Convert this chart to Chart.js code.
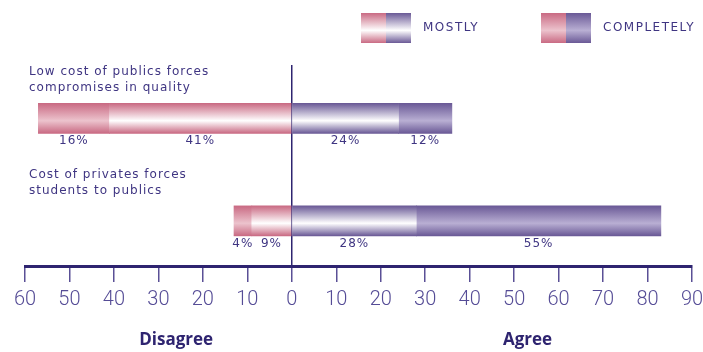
<!DOCTYPE html>
<html>
<head>
<meta charset="utf-8">
<title>Costs and quality</title>
<script src="https://cdn.jsdelivr.net/npm/chart.js@4/dist/chart.umd.min.js"></script>
<style>
  html, body { margin: 0; padding: 0; background: #fff; }
  #wrap { width: 703px; height: 352px; }
</style>
</head>
<body>
<div id="wrap"><canvas id="chart" width="703" height="352"></canvas></div>
<script>
'use strict';

// survey statements, two lines each
var statements = [
    ['Low cost of publics forces', 'compromises in quality'],
    ['Cost of privates forces', 'students to publics']
];

// percentages per answer
var disagreeCompletely = [16, 4];
var disagreeMostly     = [41, 9];
var agreeMostly        = [24, 28];
var agreeCompletely    = [12, 55];

var axisMin = -60, axisMax = 90, axisStep = 10;
var sideLabels = [
    { text: 'Disagree', at: -26 },
    { text: 'Agree',    at: 53 }
];

var NAVY = '#2e2470';
var INK = '#3f3582';
var BAR = 30;

var palette = {
    pinkMostly:      ['#c96a83', '#ffffff'],
    pinkCompletely:  ['#c96a83', '#ecc3cd'],
    purpleMostly:    ['#6a5996', '#ffffff'],
    purpleCompletely:['#6a5996', '#b9afd3']
};

function vgrad(ctx, y0, h, pair) {
    var g = ctx.createLinearGradient(0, y0, 0, y0 + h);
    g.addColorStop(0, pair[0]);
    g.addColorStop(0.58, pair[1]);
    g.addColorStop(1, pair[0]);
    return g;
}

// gradient for each bar, taken from where the y scale puts the row
function barFill(pair) {
    return function (c) {
        var chart = c.chart;
        var ys = chart.scales.y;
        if (!ys || c.type !== 'data') return pair[0];
        var yc = ys.getPixelForValue(c.dataIndex);
        if (!isFinite(yc)) return pair[0];
        return vgrad(chart.ctx, yc - BAR / 2, BAR, pair);
    };
}

function rows(values, sign) {
    return values.map(function (v, i) { return { x: sign * v, y: i }; });
}

// texts, legend and side captions
var decorations = {
    id: 'decorations',
    afterDatasetsDraw: function (chart) {
        var ctx = chart.ctx;
        var xs = chart.scales.x, ys = chart.scales.y;
        ctx.save();

        // percentage under each segment
        ctx.font = '12px "DejaVu Sans"';
        ctx.letterSpacing = '1px';
        ctx.fillStyle = INK;
        ctx.textAlign = 'center';
        ctx.textBaseline = 'middle';
        chart.data.datasets.forEach(function (ds, di) {
            var meta = chart.getDatasetMeta(di);
            ds.data.forEach(function (pt, i) {
                var el = meta.data[i];
                var cx = (el.x + el.base) / 2;
                var yc = ys.getPixelForValue(i);
                ctx.fillText(Math.abs(pt.x) + '%', cx, yc + BAR / 2 + 8);
            });
        });

        // statement over each bar
        ctx.textAlign = 'left';
        statements.forEach(function (lines, i) {
            var yc = ys.getPixelForValue(i);
            lines.forEach(function (t, k) {
                ctx.fillText(t, 29, yc - 46 + k * 16);
            });
        });

        // legend
        var items = [
            { text: 'MOSTLY', x: 361, pink: palette.pinkMostly, purple: palette.purpleMostly },
            { text: 'COMPLETELY', x: 541, pink: palette.pinkCompletely, purple: palette.purpleCompletely }
        ];
        items.forEach(function (it) {
            ctx.fillStyle = vgrad(ctx, 13, 30, it.pink);
            ctx.fillRect(it.x, 13, 25, 30);
            ctx.fillStyle = vgrad(ctx, 13, 30, it.purple);
            ctx.fillRect(it.x + 25, 13, 25, 30);
            ctx.fillStyle = INK;
            ctx.font = '12px "DejaVu Sans"';
            ctx.letterSpacing = '1.5px';
            ctx.fillText(it.text, it.x + 62, 28);
        });

        // side captions under the axis
        ctx.letterSpacing = '0px';
        ctx.font = 'bold 17px "Open Sans", "DejaVu Sans"';
        ctx.fillStyle = NAVY;
        ctx.textAlign = 'center';
        sideLabels.forEach(function (s) {
            ctx.fillText(s.text, xs.getPixelForValue(s.at), 340);
        });
        ctx.restore();
    }
};

var datasets = [
    { label: 'Disagree mostly',     data: rows(disagreeMostly, -1),     backgroundColor: barFill(palette.pinkMostly) },
    { label: 'Disagree completely', data: rows(disagreeCompletely, -1), backgroundColor: barFill(palette.pinkCompletely) },
    { label: 'Agree mostly',        data: rows(agreeMostly, 1),         backgroundColor: barFill(palette.purpleMostly) },
    { label: 'Agree completely',    data: rows(agreeCompletely, 1),     backgroundColor: barFill(palette.purpleCompletely) }
];
datasets.forEach(function (d) {
    d.barThickness = BAR;
    d.borderWidth = 0;
    d.stack = 'answers';
});

new Chart(document.getElementById('chart'), {
    type: 'bar',
    data: { datasets: datasets },
    options: {
        indexAxis: 'y',
        responsive: false,
        animation: false,
        layout: { padding: { left: 25, right: 11, top: 65, bottom: 36 } },
        plugins: { legend: { display: false }, tooltip: { enabled: false } },
        scales: {
            y: {
                type: 'linear',
                stacked: true,
                reverse: true,
                offset: false,
                min: -0.52,
                max: 1.44,
                display: false
            },
            x: {
                type: 'linear',
                stacked: true,
                min: axisMin,
                max: axisMax,
                afterFit: function (s) {
                    // end labels may hang into the page margins
                    s.height = 50;
                    s.paddingLeft = 0;
                    s.paddingRight = 0;
                },
                border: { display: true, color: NAVY, width: 3 },
                grid: {
                    drawOnChartArea: true,
                    lineWidth: 1.5,
                    color: function (c) { return c.tick && c.tick.value === 0 ? NAVY : 'rgba(0,0,0,0)'; },
                    tickColor: '#5a5096',
                    tickLength: 16,
                    tickWidth: 1.5
                },
                ticks: {
                    stepSize: axisStep,
                    padding: 6,
                    color: '#554c96',
                    font: { family: 'Roboto, "DejaVu Sans Condensed", sans-serif', size: 20, weight: '300' },
                    maxRotation: 0,
                    autoSkip: false,
                    callback: function (v) { return Math.abs(v); }
                }
            }
        }
    },
    plugins: [decorations]
});
</script>
</body>
</html>
